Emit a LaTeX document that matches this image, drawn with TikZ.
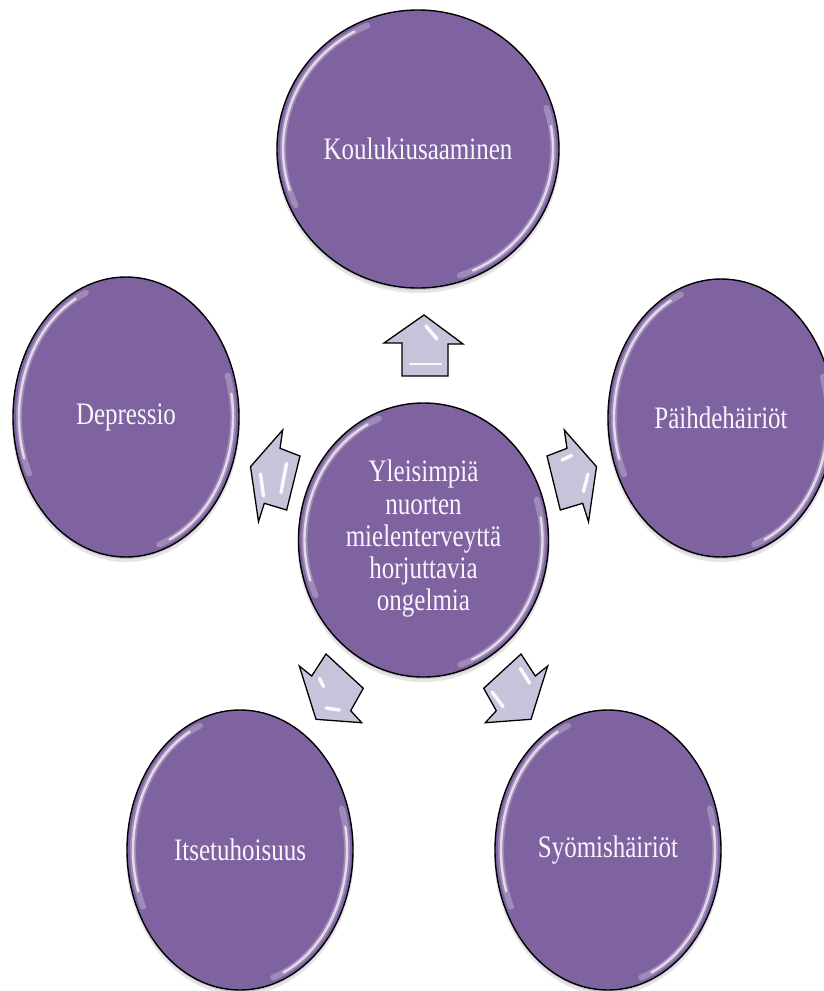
\documentclass[tikz,border=0pt]{standalone}
\usepackage{fontspec}
\setmainfont{Liberation Serif}
\usepackage{graphicx}
\usetikzlibrary{shapes.geometric,calc}
\definecolor{bubblefill}{HTML}{7F63A1}
\definecolor{arrowfill}{HTML}{C9C2DB}
\definecolor{bubbletext}{HTML}{F8F5FC}
\newcommand{\vtext}[1]{\scalebox{1}[1.25]{#1}}
\newcommand{\gloss}[3]{%
  \draw[glowsoft] (#1.center) ++(-112:#2 and #3) arc[start angle=-112, end angle=-205, x radius=#2, y radius=#3];
  \draw[glowsoft] (#1.center) ++(72:#2 and #3) arc[start angle=72, end angle=-18, x radius=#2, y radius=#3];
  \draw[glow] (#1.center) ++(-118:#2 and #3) arc[start angle=-118, end angle=-198, x radius=#2, y radius=#3];
  \draw[glow] (#1.center) ++(66:#2 and #3) arc[start angle=66, end angle=-10, x radius=#2, y radius=#3];
}
\newcommand{\shadowell}[4]{%
  \fill[black, opacity=0.10] (#1,#2+4) ellipse [x radius=#3+1, y radius=#4+1];
  \fill[black, opacity=0.12] (#1,#2+2) ellipse [x radius=#3, y radius=#4];
}
\tikzset{
  bubble/.style={ellipse, draw=black, line width=1.4pt, fill=bubblefill, text=bubbletext,
    inner sep=0pt, font=\fontsize{25}{25.8}\selectfont},
  blockarrow/.style={draw=black, line width=1.3pt, fill=arrowfill, line join=miter},
  shine/.style={white, line width=3.5pt, line cap=round, opacity=0.9},
  glowsoft/.style={white, line width=6pt, opacity=0.25, line cap=round},
  glow/.style={white, line width=2.4pt, opacity=0.7, line cap=round},
}
\begin{document}
\begin{tikzpicture}[x=1pt, y=-1pt]
\useasboundingbox (0,0) rectangle (824,991);
\clip (0,0) rectangle (824,991);

% soft shadows
\shadowell{418}{149}{141}{139}
\shadowell{126}{417}{113}{140}
\shadowell{721}{418}{113}{139}
\shadowell{423.5}{540}{125}{137}
\shadowell{240}{850}{113}{140}
\shadowell{608}{850}{113}{140}

% bubbles
\node[bubble, minimum width=282pt, minimum height=278pt] (nK) at (418,149) {\vtext{Koulukiusaaminen}};
\node[bubble, minimum width=226pt, minimum height=280pt] (nD) at (126,417) {\vtext{Depressio}};
\node[bubble, minimum width=226pt, minimum height=278pt] (nP) at (721,418) {\vtext{Päihdehäiriöt}};
\node[bubble, minimum width=250pt, minimum height=274pt] (nC) at (423.5,540)
  {\vtext{\begin{tabular}{@{}c@{}}Yleisimpiä\\nuorten\\mielenterveyttä\\horjuttavia\\ongelmia\end{tabular}}};
\node[bubble, minimum width=226pt, minimum height=280pt] (nI) at (240,850) {\vtext{Itsetuhoisuus}};
\node[bubble, minimum width=226pt, minimum height=280pt] (nS) at (608,850) {\vtext{Syömishäiriöt}};

% glossy edges
\gloss{nK}{135}{133}
\gloss{nD}{107}{134}
\gloss{nP}{107}{133}
\gloss{nC}{119}{131}
\gloss{nI}{107}{134}
\gloss{nS}{107}{134}

% block arrows
% up
\draw[blockarrow] (424,315) -- (463,344) -- (448,344) -- (448,376) -- (402,376) -- (402,343) -- (384,343) -- cycle;
\draw[shine] (426,326) -- (437,339);
\draw[shine, line width=2.5pt] (410,364) -- (441,364);
% left
\draw[blockarrow] (282.7,430) -- (280,448.3) -- (300,456) -- (286.7,510) -- (264.3,503.3) -- (258.5,521.7) -- (250.5,466.7) -- cycle;
\draw[shine] (260.5,474) -- (263.5,496);
\draw[shine] (286.5,463.5) -- (281,492.5);
% right
\draw[blockarrow] (564.3,430) -- (567,448.3) -- (547,456) -- (560.3,510) -- (582.7,503.3) -- (588.5,521.7) -- (596.5,466.7) -- cycle;
\draw[shine] (562,460) -- (571.5,455.5);
\draw[shine] (588,474) -- (583.5,491.5);
% bottom left
\draw[blockarrow] (299.3,666) -- (311.7,676) -- (326,654) -- (363.3,688.3) -- (350.7,710.7) -- (361.7,722.7) -- (316,719.3) -- cycle;
\draw[shine] (319.5,678.5) -- (323.5,686.5);
\draw[shine] (326,708) -- (339.5,710);
% bottom right
\draw[blockarrow] (547.7,666) -- (535.3,676) -- (521,654) -- (483.7,688.3) -- (496.3,710.7) -- (485.3,722.7) -- (531,719.3) -- cycle;
\draw[shine] (520.5,668.5) -- (529.5,683);
\draw[shine] (492,692) -- (503,706.5);
\end{tikzpicture}
\end{document}
